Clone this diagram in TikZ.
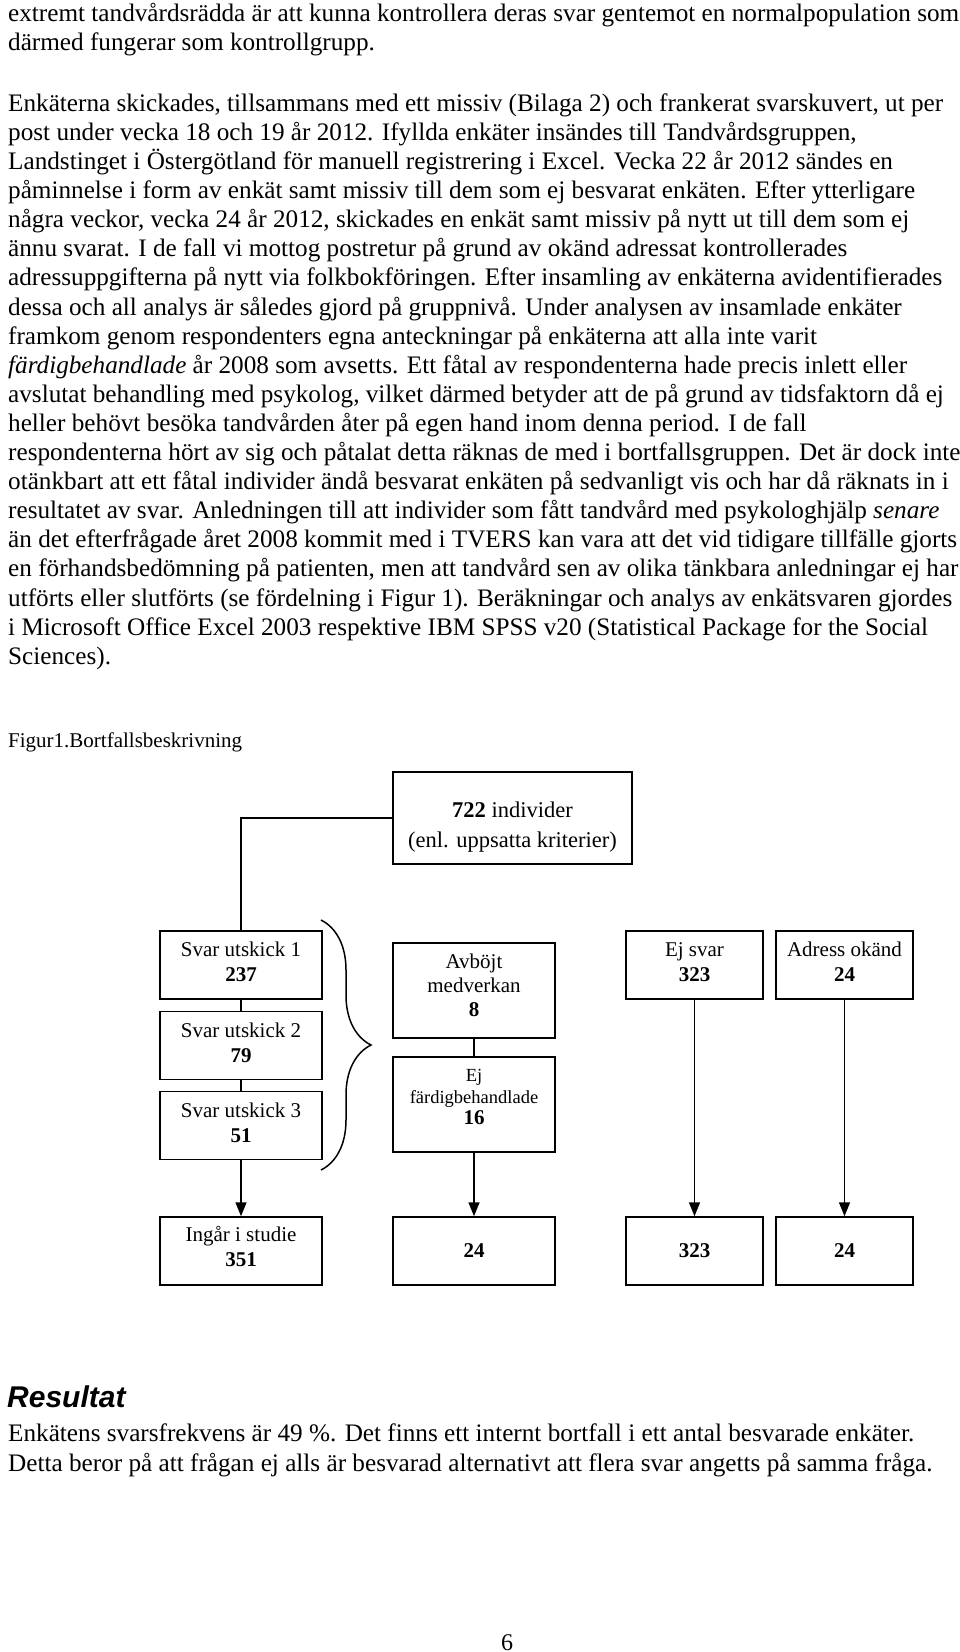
\documentclass[tikz,border=0pt]{standalone}
\usepackage{fontspec}
\setmainfont{Liberation Serif}
\newfontfamily\headfont{Liberation Sans}
\usetikzlibrary{arrows.meta,decorations.pathreplacing}

\newcommand\boxsmall{\fontsize{18.5}{21.6}\selectfont}

\tikzset{
  para/.style={anchor=base west, align=left, inner sep=0pt, font=\fontsize{25.2}{29.1}\selectfont},
  box/.style={draw=black, line width=1.5pt, align=center, inner sep=0pt, text depth=6.4pt,
    font=\fontsize{21}{25}\selectfont, minimum width=162pt, minimum height=68pt},
  smallbox/.style={box, minimum width=137pt},
  tallbox/.style={box, minimum height=95pt},
  numbox/.style={box, text depth=0pt},
  conn/.style={line width=1.5pt},
  arr/.style={conn, -{Triangle[length=14pt,width=11pt]}},
}

\begin{document}
\begin{tikzpicture}[x=1pt, y=-1pt]
\useasboundingbox (0,0) rectangle (960,1652);

% text above the figure (nodes sit on their last baseline)
\node[para] (p1) at (8,50.2) {extremt tandvårdsrädda är att kunna kontrollera deras svar gentemot en normalpopulation som\\
därmed fungerar som kontrollgrupp.};
\node[para] (p2) at (8,664.2) {Enkäterna skickades, tillsammans med ett missiv (Bilaga 2) och frankerat svarskuvert, ut per\\
post under vecka 18 och 19 år 2012. Ifyllda enkäter insändes till Tandvårdsgruppen,\\
Landstinget i Östergötland för manuell registrering i Excel. Vecka 22 år 2012 sändes en\\
påminnelse i form av enkät samt missiv till dem som ej besvarat enkäten. Efter ytterligare\\
några veckor, vecka 24 år 2012, skickades en enkät samt missiv på nytt ut till dem som ej\\
ännu svarat. I de fall vi mottog postretur på grund av okänd adressat kontrollerades\\
adressuppgifterna på nytt via folkbokföringen. Efter insamling av enkäterna avidentifierades\\
dessa och all analys är således gjord på gruppnivå. Under analysen av insamlade enkäter\\
framkom genom respondenters egna anteckningar på enkäterna att alla inte varit\\
\textit{färdigbehandlade} år 2008 som avsetts. Ett fåtal av respondenterna hade precis inlett eller\\
avslutat behandling med psykolog, vilket därmed betyder att de på grund av tidsfaktorn då ej\\
heller behövt besöka tandvården åter på egen hand inom denna period. I de fall\\
respondenterna hört av sig och påtalat detta räknas de med i bortfallsgruppen. Det är dock inte\\
otänkbart att ett fåtal individer ändå besvarat enkäten på sedvanligt vis och har då räknats in i\\
resultatet av svar. Anledningen till att individer som fått tandvård med psykologhjälp \textit{senare}\\
än det efterfrågade året 2008 kommit med i TVERS kan vara att det vid tidigare tillfälle gjorts\\
en förhandsbedömning på patienten, men att tandvård sen av olika tänkbara anledningar ej har\\
utförts eller slutförts (se fördelning i Figur 1). Beräkningar och analys av enkätsvaren gjordes\\
i Microsoft Office Excel 2003 respektive IBM SPSS v20 (Statistical Package for the Social\\
Sciences).};
\node[para, font=\fontsize{21}{25}\selectfont] (cap) at (8,747) {Figur1.Bortfallsbeskrivning};

% figure
\node[box, minimum width=239pt, minimum height=92pt, text depth=5pt, font=\fontsize{22.5}{30}\selectfont] (all) at (512.5,818) {\rule{0pt}{33pt}\textbf{722} individer\\(enl. uppsatta kriterier)};
\node[box] (s1) at (241,965) {Svar utskick 1\\\textbf{237}};
\node[box] (s2) at (241,1045.5) {Svar utskick 2\\\textbf{79}};
\node[box] (s3) at (241,1125.5) {Svar utskick 3\\\textbf{51}};
\node[box, text depth=8.4pt] (in) at (241,1251) {Ingår i studie\\\textbf{351}};
\node[tallbox, text depth=10.8pt, font=\fontsize{21}{24.2}\selectfont] (avb) at (474,990.5) {Avböjt\\medverkan\\\textbf{8}};
\node[tallbox, text depth=14.7pt, font=\boxsmall] (ejf) at (474,1104.5) {Ej\\färdigbehandlade\\\textbf{\fontsize{21}{21.6}\selectfont 16}};
\node[numbox] (n24a) at (474,1251) {\textbf{24}};
\node[smallbox] (ejs) at (694.5,965) {Ej svar\\\textbf{323}};
\node[smallbox] (adr) at (844.5,965) {Adress okänd\\\textbf{24}};
\node[numbox, minimum width=137pt] (n323) at (694.5,1251) {\textbf{323}};
\node[numbox, minimum width=137pt] (n24b) at (844.5,1251) {\textbf{24}};
\coordinate (bt) at (321,920);
\coordinate (bb) at (321,1170);

\draw[conn] (all.west) -| (s1.north);
\draw[conn] (s1) -- (s2);
\draw[conn] (s2) -- (s3);
\draw[arr] (s3) -- (in);
\draw[conn] (avb) -- (ejf);
\draw[arr] (ejf) -- (n24a);
\draw[arr] (ejs) -- (n323);
\draw[arr] (adr) -- (n24b);
\draw[conn, decorate, decoration={brace, amplitude=50pt}] (bt) -- (bb);

% text below the figure
\node[anchor=base west, inner sep=0pt, font=\headfont\bfseries\itshape\fontsize{30}{36}\selectfont] (res) at (7,1407) {Resultat};
\node[para] (p3) at (8,1471) {Enkätens svarsfrekvens är 49 \%. Det finns ett internt bortfall i ett antal besvarade enkäter.\\
Detta beror på att frågan ej alls är besvarad alternativt att flera svar angetts på samma fråga.};
\node[anchor=base, inner sep=0pt, font=\fontsize{24}{29}\selectfont] (pg) at (507,1650) {6};
\end{tikzpicture}
\end{document}
